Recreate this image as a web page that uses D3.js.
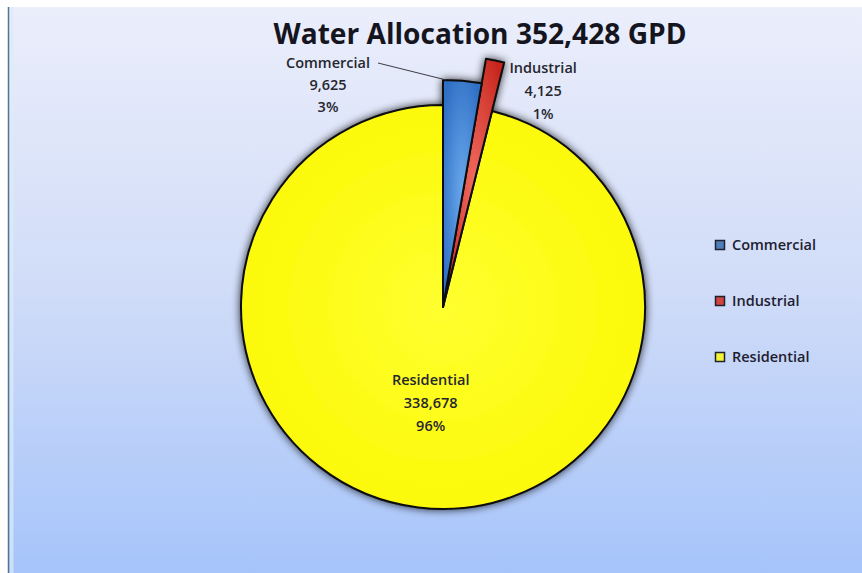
<!DOCTYPE html>
<html>
<head>
<meta charset="utf-8">
<script src="https://cdn.jsdelivr.net/npm/d3@7"></script>
<style>
  html, body { margin: 0; padding: 0; background: #fff; }
  svg { display: block; }
  text { font-family: "Open Sans", "DejaVu Sans", sans-serif; }
</style>
</head>
<body>
<div id="wrapper"></div>
<script>
// data
const categories = ['Commercial', 'Industrial', 'Residential'];
const values = [9625, 4125, 338678];
const titlePrefix = 'Water Allocation';
const titleUnit = 'GPD';

const colors = {
    Commercial: ['#6aa8ec', '#2f6fc4'],
    Industrial: ['#f06a5e', '#c8281f'],
    Residential: ['#ffff30', '#fbf800']
};
const legendColors = { Commercial: '#4f7fb8', Industrial: '#d0453d', Residential: '#f4f436' };

// per slice radius (slices pulled out like the original)
const sliceRadius = { Commercial: 227, Industrial: 252, Residential: 202 };

function drawChart() {
    const width = 862;
    const height = 573;
    const center = { x: 443, y: 307 };
    const labelSize = 14.5;

    const data = categories.map((c, i) => ({ name: c, value: values[i] }));
    const total = d3.sum(values);
    const fmt = d3.format(',');
    const pct = d => Math.round(d.value / total * 100) + '%';

    const svg = d3.select('#wrapper').append('svg')
        .attr('width', width)
        .attr('height', height);

    const defs = svg.append('defs');

    const bg = defs.append('linearGradient')
        .attr('id', 'bg-grad')
        .attr('x1', 0).attr('y1', 0).attr('x2', 0).attr('y2', 1);
    bg.append('stop').attr('offset', '0%').attr('stop-color', '#ebeefb');
    bg.append('stop').attr('offset', '50%').attr('stop-color', '#d0dcf8');
    bg.append('stop').attr('offset', '100%').attr('stop-color', '#a6c4fa');

    categories.forEach(c => {
        const g = defs.append('radialGradient')
            .attr('id', 'grad-' + c)
            .attr('cx', '50%').attr('cy', '50%').attr('r', '60%');
        g.append('stop').attr('offset', '0%').attr('stop-color', colors[c][0]);
        g.append('stop').attr('offset', '100%').attr('stop-color', colors[c][1]);
    });

    const shadow = defs.append('filter')
        .attr('id', 'shadow')
        .attr('x', '-20%').attr('y', '-20%')
        .attr('width', '140%').attr('height', '140%');
    shadow.append('feGaussianBlur')
        .attr('in', 'SourceAlpha')
        .attr('stdDeviation', 4)
        .attr('result', 'blur');
    shadow.append('feComponentTransfer')
        .attr('in', 'blur')
        .attr('result', 'soft')
        .append('feFuncA').attr('type', 'linear').attr('slope', 0.8);
    const merge = shadow.append('feMerge');
    merge.append('feMergeNode').attr('in', 'soft');
    merge.append('feMergeNode').attr('in', 'SourceGraphic');

    // background panel
    svg.append('rect')
        .attr('x', 8).attr('y', 7)
        .attr('width', width - 8).attr('height', height - 7)
        .attr('fill', 'url(#bg-grad)');
    svg.append('rect')
        .attr('x', 9.5).attr('y', 7)
        .attr('width', 4).attr('height', height - 7)
        .attr('fill', '#dcecf6').attr('opacity', 0.7);
    svg.append('line')
        .attr('x1', 8.5).attr('x2', 8.5)
        .attr('y1', 7).attr('y2', height)
        .attr('stroke', '#55738e').attr('stroke-width', 1.5);

    // title
    const title = svg.append('text')
        .attr('x', 480)
        .attr('y', 44)
        .attr('text-anchor', 'middle')
        .attr('font-family', 'Lato, "Open Sans", sans-serif')
        .attr('font-weight', 'bold')
        .attr('font-size', 28)
        .attr('fill', '#15151f')
        .text(`${titlePrefix} ${fmt(total)} ${titleUnit}`);
    const tl = title.node().getComputedTextLength();
    title.attr('font-size', 28 * 413 / tl);

    // pie
    const pie = d3.pie().sort(null).value(d => d.value);
    const arcs = pie(data);
    const arc = d3.arc().innerRadius(0).outerRadius(d => sliceRadius[d.data.name]);

    const pieG = svg.append('g')
        .attr('transform', `translate(${center.x}, ${center.y})`)
        .attr('filter', 'url(#shadow)');

    // draw residential first, then the thin pulled slices on top
    const order = [2, 1, 0];
    pieG.selectAll('path')
        .data(order.map(i => arcs[i]))
        .join('path')
        .attr('d', arc)
        .attr('fill', d => `url(#grad-${d.data.name})`)
        .attr('stroke', '#0a0a0a')
        .attr('stroke-width', 2)
        .attr('stroke-linejoin', 'round');

    // data labels
    const labelG = svg.append('g')
        .attr('transform', `translate(${center.x}, ${center.y})`)
        .attr('font-size', labelSize)
        .attr('font-weight', 600)
        .attr('fill', '#26262e')
        .attr('text-anchor', 'middle');

    const outerPoint = (angle, r) => [r * Math.sin(angle), -r * Math.cos(angle)];

    // label anchor, relative to slice geometry
    const labelPos = d => {
        const name = d.data.name;
        if (name === 'Residential') {
            const c = arc.centroid(d);
            return [c[0], c[1] - 22];
        }
        if (name === 'Commercial') {
            const p = outerPoint(d.startAngle, sliceRadius[name]);
            return [p[0] - 115, p[1] - 12];
        }
        const p = outerPoint(d.endAngle, sliceRadius[name]);
        return [p[0] + 39, p[1] + 10];
    };

    arcs.forEach(d => {
        const [x, y] = labelPos(d);
        const t = labelG.append('text')
            .attr('x', x)
            .attr('y', y);
        [d.data.name, fmt(d.data.value), pct(d)].forEach((s, k) => {
            t.append('tspan')
                .attr('x', x)
                .attr('dy', k === 0 ? 0 : (d.data.name === 'Commercial' ? 22 : 23))
                .text(s);
        });
    });

    // leader line for Commercial
    const com = arcs[0];
    const lp = labelPos(com);
    const end = outerPoint(com.startAngle + 0.015, sliceRadius.Commercial);
    labelG.append('path')
        .attr('d', d3.line()([[lp[0] + 50, lp[1] - 5], end]))
        .attr('stroke', '#3a3a44')
        .attr('stroke-width', 1)
        .attr('fill', 'none');

    // legend
    const legendY = d3.scalePoint().domain(categories).range([245, 357]);
    const legend = svg.append('g')
        .attr('transform', 'translate(715, 0)');
    const items = legend.selectAll('g')
        .data(categories)
        .join('g')
        .attr('transform', d => `translate(0, ${legendY(d)})`);
    items.append('rect')
        .attr('x', 0.5).attr('y', -4.5)
        .attr('width', 9).attr('height', 9)
        .attr('fill', d => legendColors[d])
        .attr('stroke', '#1e2230')
        .attr('stroke-width', 1.5);
    items.append('text')
        .attr('x', 17)
        .attr('y', 5)
        .attr('font-size', labelSize)
        .attr('font-weight', 600)
        .attr('fill', '#1e2030')
        .text(d => d);
}

drawChart();
</script>
</body>
</html>
